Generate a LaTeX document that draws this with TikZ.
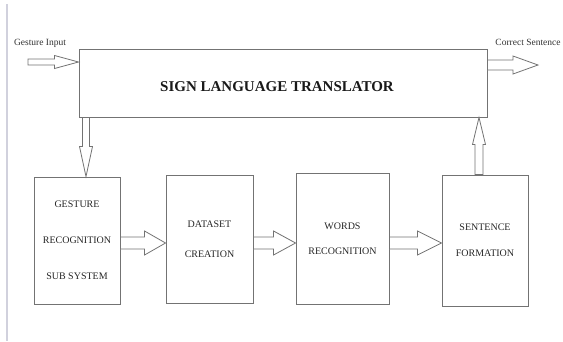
\documentclass[tikz,border=0pt]{standalone}
\usepackage{fontspec}
\setmainfont{Liberation Serif}
\usetikzlibrary{calc, positioning}

\begin{document}
\begin{tikzpicture}[x=1pt, y=-1pt,
      b/.style 2 args={draw=black!55, line width=0.9pt, inner sep=0pt, minimum width=#1, minimum height=#2,
        align=center, text=black!85, font=\fontsize{10}{12}\selectfont},
      lbl/.style={inner sep=0pt, text=black!80, font=\fontsize{9.5}{11}\selectfont},
      blk/.style n args={3}{draw=black!55, line width=0.8pt, fill=white,
        to path={let \p1=(\tikztostart), \p2=(\tikztotarget), \n1={atan2(\y2-\y1,\x2-\x1)} in
          ($(\p1)+(\n1+90:#1)$) -- ($(\p2)+(\n1+180:#3)+(\n1+90:#1)$) -- ($(\p2)+(\n1+180:#3)+(\n1+90:#2)$)
          -- (\p2) -- ($(\p2)+(\n1+180:#3)+(\n1-90:#2)$) -- ($(\p2)+(\n1+180:#3)+(\n1-90:#1)$)
          -- ($(\p1)+(\n1-90:#1)$) -- cycle}}]
      \useasboundingbox (0,0) rectangle (563,341);
      \draw[draw=blue!25!black!18, line width=1.5pt] (7,4) -- (7,341);

      \draw node[b={408pt}{68pt}] (tr) at (283,83) {};
      \node[inner sep=0pt, text=black!90, font=\fontsize{15}{18}\selectfont\bfseries] (title) at ($(tr.center)+(-6,4)$) {SIGN LANGUAGE TRANSLATOR};

      \draw node[b={86pt}{127pt}] (g1) at (77,240.5) {GESTURE\\[24pt]RECOGNITION\\[24pt]SUB SYSTEM};
      \draw node[b={87pt}{128pt}] (d1) at (209.5,239) {DATASET\\[18pt]CREATION};
      \draw node[b={93pt}{131pt}] (w1) at (342.5,238.5) {WORDS\\[13pt]RECOGNITION};
      \draw node[b={86pt}{131pt}] (s1) at (485,240.5) {SENTENCE\\[14pt]FORMATION};

      \node[lbl] (gi) at (40,43) {Gesture Input};
      \node[lbl] (cs) at (528,42) {Correct Sentence};

      % free ends and guide lines for the block arrows
      \coordinate (gin) at (28,62);
      \coordinate (gout) at (538,65);
      \coordinate (dnx) at (86,0);
      \coordinate (upx) at (479,0);
      \coordinate (row) at (0,243);

      \draw[blk={3pt}{6.5pt}{24pt}] (gin) to (tr.west |- gin);
      \draw[blk={5pt}{9pt}{25pt}] (tr.east |- gout) to (gout);
      \draw[blk={3.5pt}{6.5pt}{30pt}] (tr.south -| dnx) to (g1.north -| dnx);
      \draw[blk={4pt}{6.5pt}{27pt}] (s1.north -| upx) to (tr.south -| upx);

      \draw[blk={6pt}{12pt}{21pt}] (g1.east |- row) to (d1.west |- row);
      \draw[blk={6pt}{12pt}{22pt}] (d1.east |- row) to (w1.west |- row);
      \draw[blk={6pt}{12pt}{24pt}] (w1.east |- row) to (s1.west |- row);
    \end{tikzpicture}
\end{document}
